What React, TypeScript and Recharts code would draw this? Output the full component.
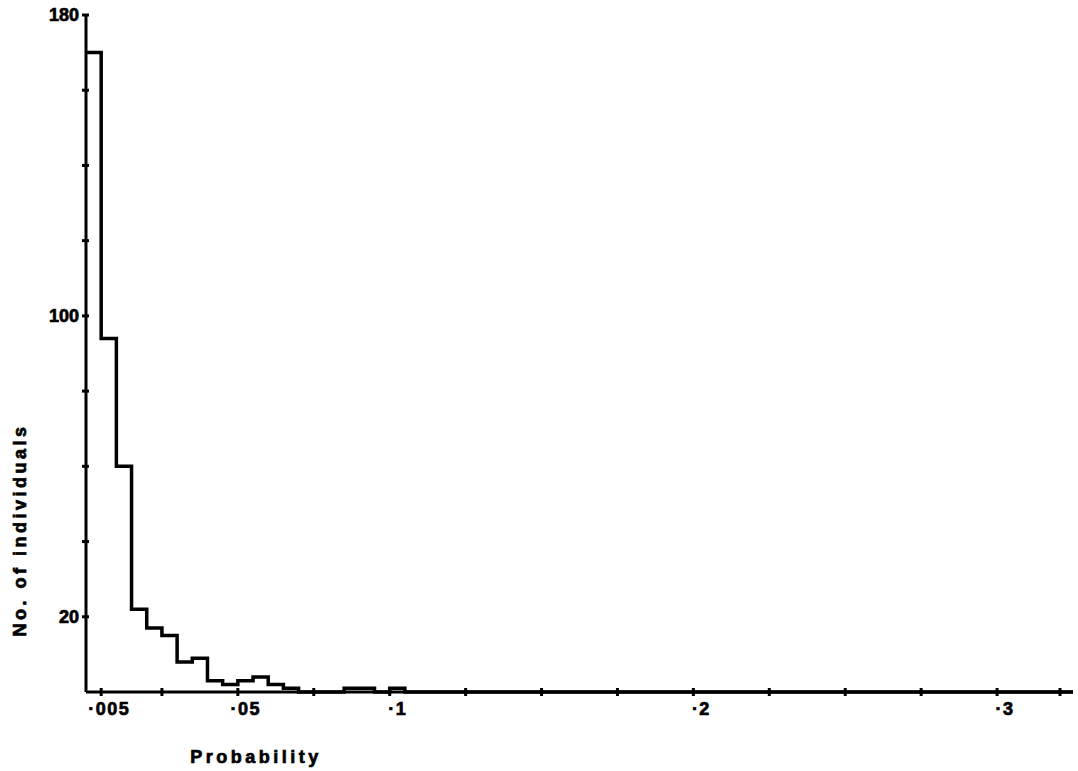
import { LineChart, Line, XAxis, YAxis, Label } from 'recharts';

// histogram bins of width .005, listed by their left edge (last point closes the axis)
const binStart = [
  0, 0.005, 0.01, 0.015, 0.02, 0.025, 0.03, 0.035, 0.04, 0.045, 0.05,
  0.055, 0.06, 0.065, 0.07, 0.075, 0.08, 0.085, 0.09, 0.095, 0.1, 0.105, 0.325,
];
const counts = [
  170, 94, 60, 22, 17, 15, 8, 9, 3, 2, 3,
  4, 2, 1, 0, 0, 0, 1, 1, 0, 1, 0, 0,
];

const xTicks = [0.005, 0.025, 0.05, 0.075, 0.1, 0.125, 0.15, 0.175, 0.2, 0.225, 0.25, 0.275, 0.3, 0.325];
const xLabels: [number, string][] = [
  [0.005, '·005'],
  [0.05, '·05'],
  [0.1, '·1'],
  [0.2, '·2'],
  [0.3, '·3'],
];
const yTicks = [20, 40, 60, 80, 100, 120, 140, 160, 180];
const yLabels = [20, 100, 180];

const data = binStart.map((p, i) => ({ p, n: counts[i] }));

const FONT = '"Liberation Sans", Arial, sans-serif';
// heavy print look
const textStyle = {
  fontFamily: FONT,
  fontWeight: 700,
  fontSize: 18,
  fill: '#000',
  stroke: '#000',
  strokeWidth: 0.7,
};

const XTick = (props: any) => {
  const { x, y, payload } = props;
  const hit = xLabels.find(([v]) => Math.abs(v - payload.value) < 1e-9);
  return (
    <g>
      <line x1={x} x2={x} y1={y - 4} y2={y + 4} stroke="#000" strokeWidth={3} />
      {hit && (
        <text
          x={x + 8}
          y={y + 17}
          textAnchor="middle"
          dominantBaseline="central"
          letterSpacing={1.5}
          {...textStyle}
        >
          {hit[1]}
        </text>
      )}
    </g>
  );
};

const YTick = (props: any) => {
  const { x, y, payload } = props;
  const show = yLabels.includes(payload.value);
  return (
    <g>
      <line x1={x - 4} x2={x + 3} y1={y} y2={y} stroke="#000" strokeWidth={3} />
      {show && (
        <text x={x - 7} y={y} textAnchor="end" dominantBaseline="central" {...textStyle}>
          {payload.value}
        </text>
      )}
    </g>
  );
};

export default function App() {
  return (
    <div style={{ position: 'absolute', left: 0, top: 0, width: 1078, height: 771, background: '#fff' }}>
      <LineChart width={1078} height={771} data={data} margin={{ top: 15, right: 5, left: 0, bottom: 0 }}>
        <XAxis
          dataKey="p"
          type="number"
          domain={[0, 0.325]}
          ticks={xTicks}
          tick={<XTick />}
          tickSize={0}
          tickMargin={0}
          tickLine={false}
          height={79}
          axisLine={{ stroke: '#000', strokeWidth: 3 }}
          allowDataOverflow
        >
          <Label
            content={(p: any) => {
              const vb = p.viewBox;
              return (
                <text
                  x={vb.x + 170}
                  y={vb.y + 65}
                  textAnchor="middle"
                  dominantBaseline="central"
                  letterSpacing={3.5}
                  {...textStyle}
                >
                  Probability
                </text>
              );
            }}
          />
        </XAxis>
        <YAxis
          type="number"
          domain={[0, 180]}
          ticks={yTicks}
          tick={<YTick />}
          tickSize={0}
          tickMargin={0}
          tickLine={false}
          width={86}
          axisLine={{ stroke: '#000', strokeWidth: 3 }}
        >
          <Label
            content={(p: any) => {
              const vb = p.viewBox;
              const cx = vb.x + 20;
              const cy = 530;
              return (
                <text
                  x={cx}
                  y={cy}
                  transform={`rotate(-90 ${cx} ${cy})`}
                  textAnchor="middle"
                  dominantBaseline="central"
                  letterSpacing={3.5}
                  {...textStyle}
                >
                  No. of individuals
                </text>
              );
            }}
          />
        </YAxis>
        <Line
          type="stepAfter"
          dataKey="n"
          stroke="#000"
          strokeWidth={3.5}
          dot={false}
          activeDot={false}
          isAnimationActive={false}
        />
      </LineChart>
    </div>
  );
}
